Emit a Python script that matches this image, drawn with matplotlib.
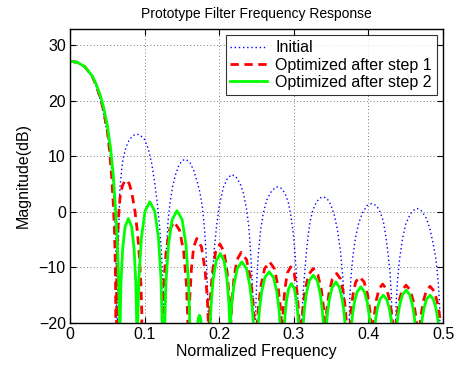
import matplotlib
matplotlib.use("Agg")
import matplotlib.pyplot as plt

plt.rcParams['font.family'] = ['Liberation Sans', 'DejaVu Sans']

# values: (normalized frequency, magnitude dB)
# points below -20 dB are the nulls, they fall outside the axes
initial_pts = [
    (0, 27.0), (.01, 26.8), (.02, 26.0), (.03, 24.2), (.035, 22.6), (.04, 20.3), (.045, 17.6),
    (.05, 14.0), (.054, 10.2), (.057, 6.0), (.059, 2.0), (.0605, -2.5), (.0615, -7), (.0623, -13),
    (.0628, -40),
    (.0632, -40), (.064, -12), (.0655, -2), (.067, 4.5), (.0695, 8), (.0715, 9.8), (.075, 11.6),
    (.079, 12.8), (.084, 13.7), (.089, 14.0), (.094, 13.8), (.1, 13.0), (.105, 11.3), (.1095, 8.7),
    (.114, 4.8), (.117, 1.5), (.12, -2.5), (.1225, -7), (.1245, -12.5), (.1258, -18), (.1265, -40),
    (.1272, -40), (.128, -13), (.1295, -6), (.1315, -1.5), (.134, 1.6), (.1375, 4.5), (.141, 6.5),
    (.146, 8.4), (.151, 9.3), (.156, 9.4), (.161, 8.8), (.166, 7.4), (.1705, 5.4), (.174, 3.6),
    (.1775, 0.8), (.18, -2.5), (.1822, -7), (.1838, -12), (.1852, -17.5), (.186, -40),
    (.188, -40), (.1895, -17), (.191, -11.5), (.1935, -6.5), (.1965, -2.5), (.2, 1.0), (.2055, 4.4),
    (.211, 6.0), (.2165, 6.7), (.222, 6.4), (.228, 5.1), (.2325, 3.3), (.2365, 0.6), (.2395, -2.5),
    (.2415, -6), (.2435, -10.5), (.2452, -15.5), (.2465, -40),
    (.2478, -40), (.249, -17), (.2505, -12), (.2525, -7.5), (.2555, -3.3), (.259, -0.3), (.264, 2.2),
    (.27, 3.7), (.2765, 4.5), (.2825, 4.3), (.288, 3.4), (.2925, 1.8), (.2962, -0.8), (.2992, -3.8),
    (.3016, -7.5), (.304, -12.3), (.3058, -17), (.307, -40),
    (.3095, -40), (.311, -18.5), (.3127, -14), (.3148, -10.5), (.317, -7), (.3195, -4), (.3217, -1.8),
    (.3255, 0.3), (.33, 1.7), (.335, 2.5), (.3395, 2.7), (.3445, 2.4), (.3495, 1.3), (.3545, -0.7),
    (.3585, -3.3), (.3625, -7), (.3655, -11.5), (.368, -16.5), (.3695, -40),
    (.373, -40), (.3745, -17), (.3765, -12), (.3792, -8), (.3825, -4.8), (.387, -2), (.392, -0.2),
    (.398, 1.1), (.4045, 1.5), (.411, 1.1), (.416, -0.1), (.42, -1.7), (.4235, -4.5), (.4265, -7.8),
    (.429, -11), (.431, -15.5), (.4325, -40),
    (.4355, -40), (.437, -17), (.4392, -12), (.442, -8.3), (.4455, -5), (.45, -2.2), (.456, -0.4),
    (.4625, 0.5), (.4655, 0.6), (.471, 0.2), (.477, -1.0), (.482, -2.8), (.4865, -5.5), (.4905, -8.5),
    (.4935, -12.5), (.4955, -17), (.497, -40), (.5, -30),
]

step1_pts = [
    (0, 27.1), (.01, 26.9), (.02, 26.1), (.03, 24.3), (.035, 22.8), (.04, 20.8), (.045, 18.2),
    (.05, 14.6), (.053, 11.0), (.056, 6.0), (.058, 1.5), (.0595, -3), (.0605, -8), (.0612, -14),
    (.0618, -40),
    (.0625, -14), (.0635, -6), (.065, -1), (.067, 2.5), (.07, 4.6), (.0735, 5.6), (.0765, 5.7),
    (.0795, 5.0), (.0826, 3.6), (.087, 0.2), (.0905, -3.8), (.093, -8), (.095, -13), (.0962, -18),
    (.097, -40),
    (.1232, -40), (.124, -20), (.1255, -13.3), (.1287, -7.3), (.1333, -3.3), (.1395, -1.8),
    (.1469, -3.3), (.1525, -7.3), (.1562, -13.3), (.158, -20), (.1588, -40),
    (.1595, -20), (.1606, -15.4), (.1627, -10.3), (.1658, -6.3), (.170, -4.8), (.1762, -6.3),
    (.1809, -10.3), (.184, -15.4), (.1855, -20), (.186, -40),
    (.1865, -20), (.188, -15.7), (.1909, -10.9), (.1952, -7.2), (.201, -5.8), (.2065, -7.2),
    (.2107, -10.9), (.2134, -15.7), (.2148, -20), (.2152, -40),
    (.2156, -20), (.217, -16.2), (.2198, -11.9), (.2239, -8.6), (.2295, -7.3), (.2366, -8.6),
    (.2419, -11.9), (.2454, -16.2), (.2472, -20), (.248, -40),
    (.2505, -40), (.251, -20), (.2527, -17), (.256, -13.3), (.2609, -10.2), (.2675, -9),
    (.2739, -10.2), (.2787, -13.3), (.2819, -17), (.2835, -20), (.2842, -40),
    (.2848, -20), (.2859, -17.3), (.2881, -13.8), (.2914, -11), (.2958, -9.9), (.3004, -11),
    (.3038, -13.8), (.3061, -17.3), (.3072, -20), (.308, -40),
    (.3098, -40), (.3105, -20), (.3121, -17.4), (.3152, -14), (.3198, -11.3), (.326, -10.2),
    (.3322, -11.3), (.3369, -14), (.34, -17.4), (.3415, -20), (.3422, -40),
    (.3428, -20), (.3443, -17.6), (.3472, -14.6), (.3516, -12.1), (.3575, -11.1), (.3627, -12.1),
    (.3666, -14.6), (.3692, -17.6), (.3705, -20), (.3712, -40),
    (.3748, -40), (.3755, -20), (.3767, -17.8), (.3793, -14.9), (.383, -12.6), (.388, -11.7),
    (.3942, -12.6), (.3989, -14.9), (.402, -17.8), (.4035, -20), (.4042, -40),
    (.4063, -40), (.407, -20), (.4082, -18.3), (.4106, -15.9), (.4142, -13.9), (.419, -13),
    (.4244, -13.9), (.4285, -15.9), (.4312, -18.3), (.4325, -20), (.4332, -40),
    (.4363, -40), (.437, -20), (.4384, -18.4), (.4411, -16.1), (.4451, -14.1), (.4505, -13.2),
    (.4561, -14.1), (.4603, -16.1), (.4631, -18.4), (.4645, -20), (.4652, -40),
    (.4688, -40), (.4695, -20), (.4708, -18.4), (.4734, -16.2), (.4774, -14.3), (.4826, -13.4),
    (.4882, -14.3), (.4923, -16.2), (.4951, -18.4), (.4965, -20), (.4972, -40), (.5, -30),
]

step2_pts = [
    (0, 27.1), (.01, 26.9), (.02, 26.1), (.03, 24.4), (.035, 23.0), (.04, 21.2), (.045, 18.8),
    (.05, 15.6), (.0545, 11.3), (.058, 6.5), (.061, 0.5), (.063, -4.5), (.0645, -9.5), (.0655, -14),
    (.0662, -19), (.0668, -40),
    (.0672, -20), (.0683, -13), (.0705, -6.8), (.0738, -2.7), (.0782, -1.2), (.0827, -2.7),
    (.086, -6.8), (.0883, -13), (.0894, -20), (.09, -40),
    (.0908, -20), (.0924, -11.9), (.0957, -4.7), (.1005, 0.1), (.107, 1.8), (.1136, 0.1),
    (.1186, -4.7), (.1219, -11.9), (.1235, -20), (.1242, -40),
    (.1263, -40), (.127, -20), (.1287, -12.5), (.132, -5.9), (.1369, -1.4), (.1435, 0.2),
    (.1503, -1.4), (.1554, -5.9), (.1588, -12.5), (.1605, -20), (.1612, -40),
    (.169, -40), (.1705, -21), (.172, -19.1), (.1735, -18.6), (.175, -19.1), (.1765, -21), (.178, -40),
    (.1874, -40), (.188, -20), (.1893, -16.3), (.192, -12), (.196, -8.8), (.2013, -7.5),
    (.2065, -8.8), (.2103, -12), (.2129, -16.3), (.2142, -20), (.2146, -40),
    (.215, -20), (.2165, -17), (.2196, -13.3), (.2242, -10.2), (.2303, -9), (.2365, -10.2),
    (.2411, -13.3), (.2442, -17), (.2457, -20), (.2464, -40),
    (.2518, -40), (.2525, -20), (.254, -17.5), (.2569, -14.4), (.2612, -11.8), (.267, -10.8),
    (.2728, -11.8), (.2772, -14.4), (.2801, -17.5), (.2815, -20), (.2822, -40),
    (.2868, -40), (.2875, -20), (.2884, -18.3), (.2903, -15.9), (.2931, -13.8), (.2968, -12.9),
    (.3006, -13.8), (.3034, -15.9), (.3053, -18.3), (.3062, -20), (.3069, -40),
    (.312, -40), (.3127, -20), (.314, -17.7), (.3167, -14.8), (.3207, -12.4), (.3261, -11.4),
    (.3315, -12.4), (.3355, -14.8), (.3382, -17.7), (.3395, -20), (.3402, -40),
    (.3433, -40), (.344, -20), (.3452, -18.2), (.3477, -15.7), (.3514, -13.6), (.3563, -12.6),
    (.3612, -13.6), (.3649, -15.7), (.3674, -18.2), (.3686, -20), (.3693, -40),
    (.3769, -40), (.3776, -20), (.3788, -18.4), (.3813, -16.2), (.3849, -14.4), (.3898, -13.5),
    (.3947, -14.4), (.3983, -16.2), (.4008, -18.4), (.402, -20), (.4027, -40),
    (.4083, -40), (.409, -20), (.4101, -18.9), (.4123, -17.2), (.4156, -15.7), (.42, -15),
    (.4244, -15.7), (.4277, -17.2), (.4299, -18.9), (.431, -20), (.4317, -40),
    (.4378, -40), (.4385, -20), (.4397, -18.6), (.4421, -16.7), (.4457, -14.9), (.4505, -14.1),
    (.4553, -14.9), (.4589, -16.7), (.4613, -18.6), (.4625, -20), (.4632, -40),
    (.4707, -40), (.4714, -20), (.4725, -18.9), (.4747, -17.2), (.4781, -15.7), (.4825, -15),
    (.4869, -15.7), (.4903, -17.2), (.4925, -18.9), (.4936, -20), (.4943, -40), (.5, -30),
]

series_labels = ['Initial', 'Optimized after step 1', 'Optimized after step 2']
x_ticks = [0, 0.1, 0.2, 0.3, 0.4, 0.5]
x_tick_labels = ['0', '0.1', '0.2', '0.3', '0.4', '0.5']
y_ticks = [-20, -10, 0, 10, 20, 30]

fig = plt.figure(figsize=(4.57, 3.69), dpi=100)
ax = fig.add_axes([0.1532, 0.1247, 0.8162, 0.7967])

f0, m0 = zip(*initial_pts)
f1, m1 = zip(*step1_pts)
f2, m2 = zip(*step2_pts)
ax.plot(f0, m0, color='blue', linestyle=(0, (1, 2)), linewidth=1.0, label=series_labels[0])
ax.plot(f1, m1, color='red', linestyle=(0, (3, 2)), linewidth=2.0, label=series_labels[1])
ax.plot(f2, m2, color='#00ff00', linestyle='-', linewidth=2.0, label=series_labels[2])

ax.set_xlim(0, 0.5)
ax.set_ylim(-20, 32.9)
ax.set_xticks(x_ticks)
ax.set_xticklabels(x_tick_labels)
ax.set_yticks(y_ticks)
ax.tick_params(direction='in', top=True, right=True, length=4, width=0.8,
               labelsize=11.5, pad=3)
ax.grid(True, color='0.3', linestyle=(0, (1, 3)), linewidth=0.6)
for s in ax.spines.values():
    s.set_linewidth(1.0)

ax.set_title('Prototype Filter Frequency Response', fontsize=10, pad=8)
ax.set_xlabel('Normalized Frequency', fontsize=11.5, labelpad=1)
ax.set_ylabel('Magnitude(dB)', fontsize=11.5, labelpad=6)

leg = ax.legend(loc='upper right', fontsize=11.5, handlelength=2.3, handletextpad=0.5,
                labelspacing=0.15, borderaxespad=0.4, borderpad=0.3, fancybox=False)
leg.get_frame().set_edgecolor('black')
leg.get_frame().set_linewidth(0.8)

fig.savefig('out.png', dpi=100)
